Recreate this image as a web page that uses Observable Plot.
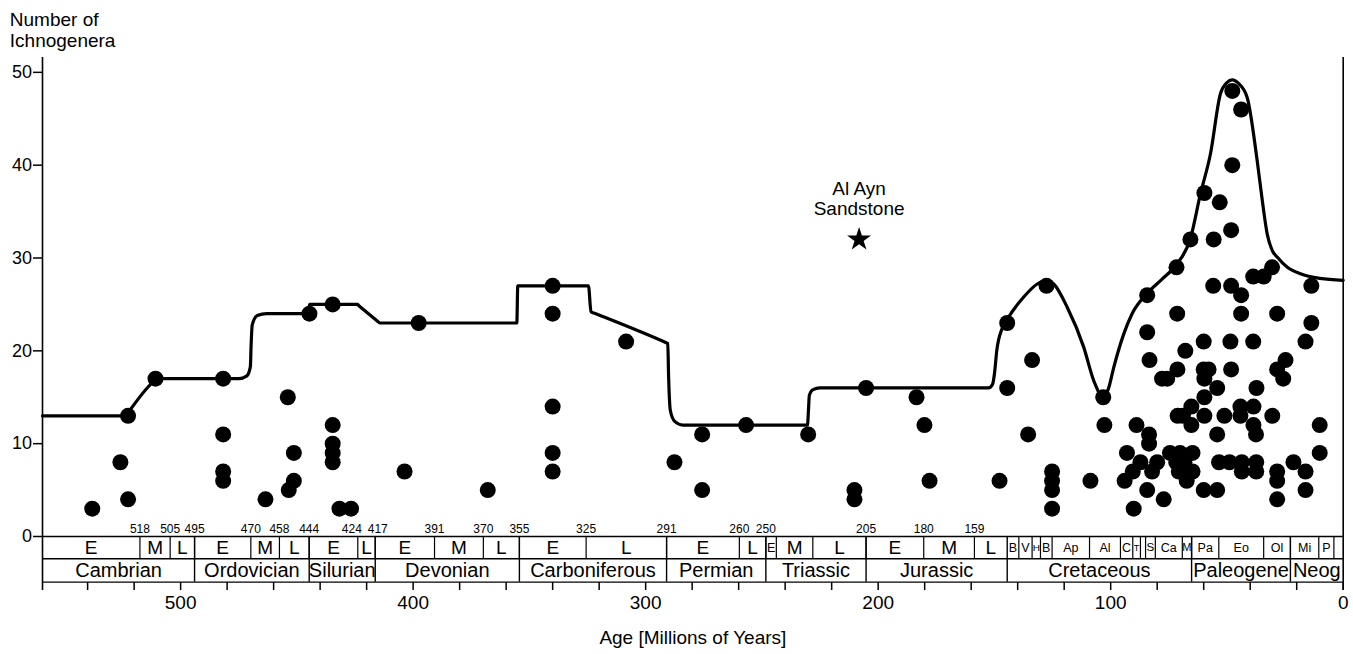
<!DOCTYPE html>
<html>
<head>
<meta charset="utf-8">
<script src="https://cdn.jsdelivr.net/npm/d3@7"></script>
<script src="https://cdn.jsdelivr.net/npm/@observablehq/plot@0.6"></script>
<style>
  html, body { margin: 0; padding: 0; background: #fff; }
  svg { display: block; }
</style>
</head>
<body>
<div id="chart"></div>
<script>
// ---------- DATA ----------
// Ichnogenera occurrences: age (Ma) and number of ichnogenera
const dotAge = [
  538, 525.9, 522.6, 522.6, 510.8, 481.7, 481.7, 481.7, 481.7, 463.5,
  453.9, 451.3, 451.3, 453.5, 444.6, 434.6, 434.6, 434.6, 434.6, 434.6,
  431.7, 426.7, 403.7, 397.6, 367.9, 340, 340, 340, 340, 340,
  308.4, 287.6, 275.7, 275.7, 256.8, 230.1, 210.2, 210.2, 205.2, 183.5,
  180.1, 177.9, 147.8, 144.5, 144.5, 133.8, 135.5, 127.6, 125.2, 125.2,
  125.2, 125.2, 108.7, 103.2, 102.7,
  84.3, 84.3, 83.3, 88.9, 83.5, 83.5, 93.0, 87.2, 90.5, 94.0,
  80.0, 82.2, 84.3, 77.2, 90.1, 77.9, 75.7, 71.4, 71.7, 65.7,
  67.9, 71.3, 65.3, 71.2, 68.9, 65.3, 74.5, 70.2, 64.8, 71.8,
  68.3, 70.7, 64.8, 67.3, 60, 60, 57.9, 59.7, 59.7, 59.7,
  60, 59.7, 55.7, 55.9, 53.1, 54.2, 54.2, 54.2, 53.4, 48.2,
  47.7, 47.7, 48.2, 48.5, 48.2, 51.1, 48.9, 43.9, 43.9, 43.9,
  44.2, 44.2, 43.6, 43.6, 38.7, 38.7, 37.3, 38.6, 38.6, 37.5,
  37.4, 37.4, 34.2, 30.6, 30.5, 28.4, 24.8, 28.4, 25.8, 28.4,
  28.4, 28.4, 21.4, 16.2, 16.2, 16.2, 13.7, 13.7, 10.1, 10.1
];
const dotCount = [
  3, 8, 13, 4, 17, 17, 11, 7, 6, 4,
  15, 9, 6, 5, 24, 25, 12, 10, 9, 8,
  3, 3, 7, 23, 5, 27, 24, 14, 9, 7,
  21, 8, 11, 5, 12, 11, 5, 4, 16, 15,
  12, 6, 6, 23, 16, 19, 11, 27, 7, 6,
  5, 3, 6, 15, 12,
  26, 22, 19, 12, 11, 10, 9, 8, 7, 6,
  8, 7, 5, 4, 3, 17, 17, 24, 29, 32,
  20, 18, 14, 13, 13, 12, 9, 9, 9, 8,
  8, 7, 7, 6, 21, 18, 18, 17, 15, 13,
  5, 37, 32, 27, 36, 16, 11, 5, 8, 33,
  48, 40, 27, 21, 18, 13, 8, 46, 26, 24,
  14, 13, 8, 7, 28, 21, 16, 14, 12, 11,
  8, 7, 28, 29, 13, 24, 19, 18, 17, 7,
  6, 4, 8, 21, 7, 5, 27, 23, 12, 9
];

// Envelope curve (age Ma, number of ichnogenera)
const curveAge = [
  559.4, 523.5, 521.8, 512.0, 510.0, 475.0, 471.5, 470.0, 469.7, 469.2,
  467.0, 463.0, 445.0, 444.6, 424.0, 423.2, 415.2, 414.4, 355.4, 355.0,
  324.6, 323.5, 322.3, 291.4, 290.5, 290.1, 289.4, 287.5, 284.0, 230.4,
  230.0, 229.6, 228.2, 225.0, 152.5, 150.8, 150.0, 149.0, 146.7, 144.5,
  137.4, 131.6, 127.6, 124.5, 118.7, 111.6, 107.3, 103.4, 101.0, 98.7,
  94.4, 90.8, 84.3, 78.0, 71.7, 65.7, 61.4, 57.1, 52.8, 50.0,
  47.7, 45.0, 41.3, 37.0, 34.8, 32.7, 30.5, 28.4, 24.0, 18.4,
  10.0, 0.0
];
const curveCount = [
  13, 13, 13.6, 16.6, 17, 17, 17.3, 18.3, 20.5, 22.8,
  23.8, 24, 24, 25, 25, 24.83, 23.17, 23, 23, 27,
  27, 24.2, 24.08, 20.9, 20.8, 17.0, 13.6, 12.4, 12.0, 12.0,
  13.5, 15.2, 15.8, 16.0, 16.0, 16.4, 17.5, 20.0, 22.4, 23.4,
  25.8, 27.2, 27.6, 27.2, 24.7, 20.4, 16.8, 15.1, 15.9, 18.2,
  21.8, 24.0, 26.2, 27.7, 29.3, 32.1, 36.9, 41.2, 47.7, 48.9,
  49.2, 48.8, 47.3, 40.5, 36.2, 32.6, 30.8, 30.1, 29.0, 28.3,
  27.8, 27.6
];

// Time scale: periods (bottom row)
const periodNames = ["Cambrian", "Ordovician", "Silurian", "Devonian", "Carboniferous",
  "Permian", "Triassic", "Jurassic", "Cretaceous", "Paleogene", "Neog"];
const periodEdges = [559.4, 494.0, 444.7, 416.3, 354.3, 291.0, 248.3, 205.2, 144.5, 65.2, 22.7, 0];

// Time scale: epochs Cambrian–Jurassic (top row)
const epochNames = ["E", "M", "L", "E", "M", "L", "E", "L", "E", "M", "L",
  "E", "L", "E", "L", "E", "M", "L", "E", "M", "L"];
const epochEdges = [559.4, 517.5, 504.5, 494.0, 469.8, 457.5, 444.7, 423.8, 416.3, 390.8,
  369.8, 354.3, 325.6, 291.0, 259.7, 248.3, 243.8, 228.1, 205.2, 180.4, 158.6, 144.5];

// Time scale: stages / epochs Cretaceous–Neogene (top row)
const stageNames = ["B", "V", "H", "B", "Ap", "Al", "C", "T", "", "S", "Ca", "M",
  "Pa", "Eo", "Ol", "Mi", "P", ""];
const stageEdges = [144.5, 139.5, 133.8, 130.2, 125.2, 109.1, 95.8, 90.5, 87.2, 85.0,
  80.8, 69.2, 65.2, 53.5, 34.2, 22.7, 10.5, 4.0, 0];

// Boundary ages printed above the time scale
const boundaryLabels = [518, 505, 495, 470, 458, 444, 424, 417, 391, 370, 355, 325, 291, 260, 250, 205, 180, 159];

// Axis ticks
const yTicks = [0, 10, 20, 30, 40, 50];
const xMinorTicks = [540, 520, 500, 480, 460, 440, 420, 400, 380, 360, 340, 320, 300, 280,
  260, 240, 220, 200, 180, 160, 140, 120, 100, 80, 60, 40, 20, 0];
const xMajorTicks = [500, 400, 300, 200, 100, 0];

// Highlighted site
const siteAge = [208.2];
const siteCount = [32];
const siteName = ["Al Ayn\nSandstone"];

// ---------- LAYOUT ----------
const FONT = "'Liberation Sans', Arial, Helvetica, sans-serif";
const W = 1353, H = 654;
const ML = 42, MR = 10.3, MT = 57, MB = 118;
const XLEFT = 559.4, YTOP = 51.6;
const ROW1 = -2.40, ROW2 = -4.92, TICK_END = -5.82;
const kx = (W - MR - ML) / XLEFT; // px per Ma (used only for label font fitting)

const dots = dotAge.map((a, i) => ({age: a, n: dotCount[i]}));
const env = curveAge.map((a, i) => ({age: a, n: curveCount[i]}));
const periods = periodNames.map((name, i) => ({name, a0: periodEdges[i], a1: periodEdges[i + 1]}));
const epochs = epochNames.map((name, i) => ({name, a0: epochEdges[i], a1: epochEdges[i + 1]}));
const stages = stageNames.map((name, i) => ({name, a0: stageEdges[i], a1: stageEdges[i + 1]}));
const allEdges = epochEdges.concat(stageEdges);
const nearestEdge = (v) => allEdges.reduce((b, e) => Math.abs(e - v) < Math.abs(b - v) ? e : b, allEdges[0]);
const bLabels = boundaryLabels.map(v => ({v, x: nearestEdge(v)}));

const fit = (base) => (d) => {
  const w = Math.abs(d.a0 - d.a1) * kx;
  return Math.min(base, w / (0.72 * Math.max(1, d.name.length) + 0.12));
};
const mid = (d) => (d.a0 + d.a1) / 2;

const chart = Plot.plot({
  width: W,
  height: H,
  marginLeft: ML,
  marginRight: MR,
  marginTop: MT,
  marginBottom: MB,
  x: {domain: [XLEFT, 0]},
  y: {domain: [0, YTOP]},
  style: {fontFamily: FONT, background: "white", color: "black", overflow: "visible"},
  marks: [
    // time scale frame lines
    Plot.ruleY([0, ROW1, ROW2], {x1: XLEFT, x2: 0, stroke: "black", strokeWidth: 1.4}),
    Plot.ruleX(epochEdges.slice(1, -1).concat(stageEdges.slice(1, -1)), {y1: 0, y2: ROW1, stroke: "black", strokeWidth: 1.2}),
    Plot.ruleX(periodEdges.slice(1, -1), {y1: 0, y2: ROW2, stroke: "black", strokeWidth: 1.4}),
    Plot.ruleX([XLEFT, 0], {y1: TICK_END, y2: YTOP, stroke: "black", strokeWidth: 1.6}),
    // time scale labels
    Plot.text(epochs, {x: mid, y: ROW1 / 2, text: "name", fontSize: fit(19), lineAnchor: "middle", fill: "black"}),
    Plot.text(stages, {x: mid, y: ROW1 / 2, text: "name", fontSize: fit(12.5), lineAnchor: "middle", fill: "black"}),
    Plot.text(periods, {x: mid, y: (ROW1 + ROW2) / 2, text: "name", fontSize: 20, lineAnchor: "middle", fill: "black"}),
    Plot.text(bLabels.filter(d => d.v !== 424 && d.v !== 417), {x: "x", y: 0, text: d => String(d.v), fontSize: 12, lineAnchor: "bottom", dy: -4}),
    Plot.text(bLabels.filter(d => d.v === 424), {x: "x", y: 0, text: d => String(d.v), fontSize: 12, lineAnchor: "bottom", dy: -4, dx: -6}),
    Plot.text(bLabels.filter(d => d.v === 417), {x: "x", y: 0, text: d => String(d.v), fontSize: 12, lineAnchor: "bottom", dy: -4, dx: 2.5}),
    // axes
    Plot.axisY({ticks: yTicks, tickSize: 9, tickPadding: 1.5, fontSize: 18, strokeWidth: 1.5, label: null}),
    Plot.axisX({ticks: xMinorTicks, tickSize: 8, tickPadding: 5, dy: 46, fontSize: 19, strokeWidth: 1.5,
      tickFormat: d => xMajorTicks.includes(d) ? String(d) : "", label: null}),
    Plot.text(["Number of\nIchnogenera"], {frameAnchor: "top-left", dx: -32.7, dy: -47, textAnchor: "start", lineAnchor: "top", fontSize: 19, lineHeight: 1.12}),
    Plot.text(["Age [Millions of Years]"], {frameAnchor: "bottom", dy: 107, lineAnchor: "bottom", fontSize: 19}),
    // data
    Plot.line(env, {x: "age", y: "n", curve: "monotone-x", stroke: "black", strokeWidth: 3.2, strokeLinejoin: "round"}),
    Plot.dot(dots, {x: "age", y: "n", r: 8, fill: "black", stroke: "none"}),
    Plot.dot(siteAge.map((a, i) => ({a, n: siteCount[i]})), {x: "a", y: "n", symbol: "star", r: 7.5, fill: "black", stroke: "none"}),
    Plot.text(siteAge.map((a, i) => ({a, n: siteCount[i], t: siteName[i]})), {x: "a", y: "n", text: "t", dy: -24, lineAnchor: "bottom", fontSize: 19, lineHeight: 1.1})
  ]
});
document.getElementById("chart").appendChild(chart);
</script>
</body>
</html>
